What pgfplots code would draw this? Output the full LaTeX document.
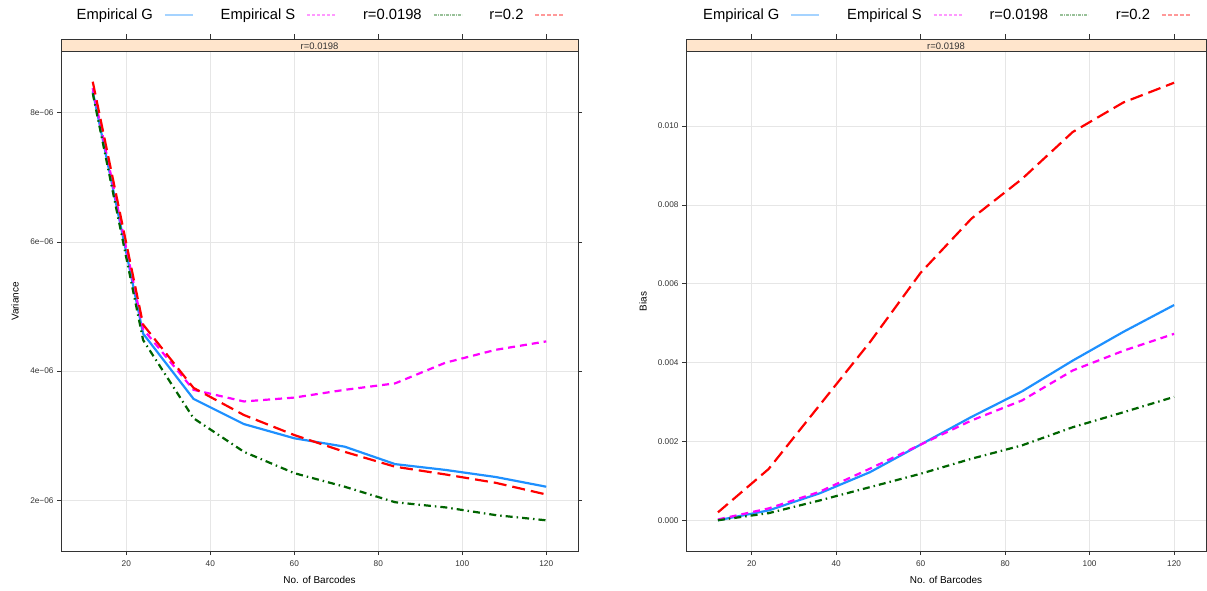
\documentclass[border=0pt]{standalone}
\usepackage{fontspec}
\setmainfont{Liberation Sans}
\usepackage{pgfplots}
\pgfplotsset{compat=1.18}

\definecolor{gcol}{HTML}{1E90FF}
\definecolor{scol}{HTML}{FF00FF}
\definecolor{lcol}{HTML}{006400}
\definecolor{hcol}{HTML}{FF0000}
\definecolor{stripbg}{HTML}{FFE5CC}
\definecolor{gridc}{HTML}{E6E6E6}
\definecolor{axc}{HTML}{333333}

\pgfplotsset{
  panel/.style={
    scale only axis, anchor=south west,
    height=499bp,
    xmin=4.44, xmax=127.56,
    xtick={20,40,60,80,100,120},
    grid=major, major grid style={gridc, line width=0.8bp},
    axis line style={axc, line width=1bp},
    tick align=outside, major tick length=4bp,
    tick style={axc, line width=0.8bp},
    xtick pos=bottom, ytick pos=both, yticklabel pos=left,
    ticklabel style={font=\fontsize{8.3}{10}\selectfont, text=axc},
    xticklabel style={yshift=-2.5bp},
    /pgf/number format/assume math mode=true,
    scaled ticks=false,
    clip=false,
    xlabel={No. of Barcodes},
    xlabel style={font=\fontsize{10}{12}\selectfont, at={(axis description cs:0.5,-0.058)}, anchor=center},
    ylabel style={font=\fontsize{10}{12}\selectfont, anchor=center},
    legend columns=4, legend plot pos=right,
    legend style={draw=none, fill=none, at={(0.5,1.074)}, anchor=center,
      font=\fontsize{14.8}{17}\selectfont, column sep=9bp,
      /tikz/every even column/.append style={column sep=25bp}},
    legend image code/.code={\draw[##1] (0bp,0bp) -- (28bp,0bp);},
  },
  gline/.style={gcol, line width=2.2bp, solid},
  sline/.style={scol, line width=2.2bp, dash pattern=on 7bp off 5bp},
  lline/.style={lcol, line width=2.2bp, dash pattern=on 7bp off 4bp on 1.5bp off 4bp},
  hline/.style={hcol, line width=2.2bp, dash pattern=on 13bp off 6bp},
  glegend/.style={gcol!40, line width=1.8bp, solid},
  slegend/.style={scol!40, line width=1.8bp, dash pattern=on 3bp off 2bp},
  llegend/.style={lcol!40, line width=1.8bp, dash pattern=on 3bp off 1bp on 1bp off 1bp},
  hlegend/.style={hcol!40, line width=1.8bp, dash pattern=on 4bp off 2bp},
}

\begin{document}
\begin{tikzpicture}
\path[use as bounding box] (0,0) rectangle (1207bp,591bp);

% ---- Variance panel ----
\begin{axis}[panel, at={(61bp,40bp)}, width=517bp,
  ymin=1.215e-6, ymax=8.94e-6,
  ytick={2e-6,4e-6,6e-6,8e-6},
  yticklabels={2e−06,4e−06,6e−06,8e−06},
  ylabel={Variance},
  ylabel style={at={(axis description cs:-0.089,0.5)}},
]
\addlegendimage{glegend}\addlegendentry{Empirical G}
\addlegendimage{slegend}\addlegendentry{Empirical S}
\addlegendimage{llegend}\addlegendentry{r=0.0198}
\addlegendimage{hlegend}\addlegendentry{r=0.2}
\addplot[gline, forget plot] coordinates {(12,8.33e-6) (24,4.58e-6) (36,3.57e-6) (48,3.18e-6) (60,2.96e-6) (72,2.83e-6) (84,2.56e-6) (96,2.47e-6) (108,2.36e-6) (120,2.21e-6)};
\addplot[sline, forget plot] coordinates {(12,8.38e-6) (24,4.65e-6) (36,3.71e-6) (48,3.53e-6) (60,3.59e-6) (72,3.71e-6) (84,3.81e-6) (96,4.13e-6) (108,4.33e-6) (120,4.46e-6)};
\addplot[lline, forget plot] coordinates {(12,8.30e-6) (24,4.48e-6) (36,3.27e-6) (48,2.75e-6) (60,2.42e-6) (72,2.21e-6) (84,1.97e-6) (96,1.89e-6) (108,1.77e-6) (120,1.69e-6)};
\addplot[hline, forget plot] coordinates {(12,8.48e-6) (24,4.72e-6) (36,3.74e-6) (48,3.32e-6) (60,3.01e-6) (72,2.75e-6) (84,2.52e-6) (96,2.40e-6) (108,2.27e-6) (120,2.09e-6)};
% strip with panel title and the top ticks above it
\draw[axc, line width=1bp, fill=stripbg] (rel axis cs:0,1) rectangle ([yshift=12.5bp]rel axis cs:1,1);
\node[font=\fontsize{9.5}{11}\selectfont, text=axc] at ([yshift=6.25bp]rel axis cs:0.5,1) {r=0.0198};
\pgfplotsinvokeforeach{20,40,60,80,100,120}{
  \draw[axc, line width=0.8bp] ([yshift=12.5bp]axis cs:#1,8.94e-6) -- ([yshift=17.5bp]axis cs:#1,8.94e-6);
}
\end{axis}

% ---- Bias panel ----
\begin{axis}[panel, at={(686bp,40bp)}, width=520bp,
  ymin=-0.00078, ymax=0.01188,
  ytick={0,0.002,0.004,0.006,0.008,0.010},
  yticklabels={0.000,0.002,0.004,0.006,0.008,0.010},
  ylabel={Bias},
  ylabel style={at={(axis description cs:-0.0827,0.5)}},
]
\addlegendimage{glegend}\addlegendentry{Empirical G}
\addlegendimage{slegend}\addlegendentry{Empirical S}
\addlegendimage{llegend}\addlegendentry{r=0.0198}
\addlegendimage{hlegend}\addlegendentry{r=0.2}
\addplot[gline, forget plot] coordinates {(12,0.00000) (24,0.00025) (36,0.00068) (48,0.00122) (60,0.00192) (72,0.00262) (84,0.00327) (96,0.00405) (108,0.00478) (120,0.00546)};
\addplot[sline, forget plot] coordinates {(12,0.00002) (24,0.00030) (36,0.00072) (48,0.00131) (60,0.00192) (72,0.00253) (84,0.00304) (96,0.00380) (108,0.00430) (120,0.00473)};
\addplot[lline, forget plot] coordinates {(12,0.00000) (24,0.00018) (36,0.00050) (48,0.00084) (60,0.00118) (72,0.00156) (84,0.00190) (96,0.00236) (108,0.00274) (120,0.00313)};
\addplot[hline, forget plot] coordinates {(12,0.00020) (24,0.00130) (36,0.00291) (48,0.00452) (60,0.00628) (72,0.00765) (84,0.00866) (96,0.00985) (108,0.01060) (120,0.01110)};
\draw[axc, line width=1bp, fill=stripbg] (rel axis cs:0,1) rectangle ([yshift=12.5bp]rel axis cs:1,1);
\node[font=\fontsize{9.5}{11}\selectfont, text=axc] at ([yshift=6.25bp]rel axis cs:0.5,1) {r=0.0198};
\pgfplotsinvokeforeach{20,40,60,80,100,120}{
  \draw[axc, line width=0.8bp] ([yshift=12.5bp]axis cs:#1,0.01188) -- ([yshift=17.5bp]axis cs:#1,0.01188);
}
\end{axis}
\end{tikzpicture}
\end{document}
